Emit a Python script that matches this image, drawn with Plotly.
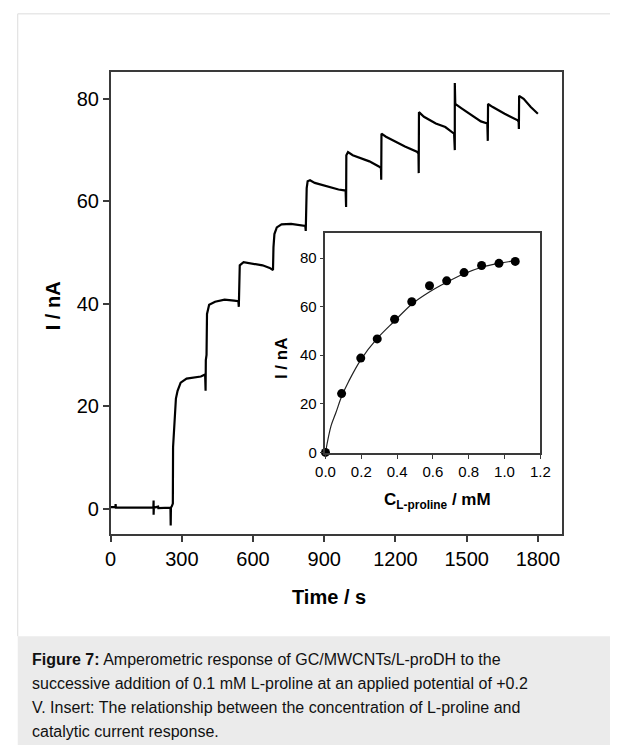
import plotly.graph_objects as go

# main amperometric trace (time in s, current in nA)
time_s = [
    0, 20, 21, 22, 120, 180, 181, 181, 182, 200, 201, 252, 253, 254,
    258, 262, 263, 266, 270, 275, 282, 295, 320, 350, 380, 398,
    400, 401, 404, 406, 415, 440, 480, 520, 538, 540, 541, 544,
    560, 600, 640, 670, 684, 686, 690, 700, 720, 760, 800, 820, 822, 823,
    826, 830, 840, 860, 890, 930, 960, 990, 992, 993, 1000, 1020, 1050,
    1090, 1130, 1139, 1140, 1141, 1160, 1200, 1240, 1290, 1297, 1298, 1299,
    1320, 1370, 1410, 1447, 1450, 1450, 1452, 1480, 1520, 1560, 1587, 1589,
    1590, 1610, 1660, 1715, 1719, 1720, 1721, 1740, 1770, 1800,
]
current_na = [
    0.3, 0.3, 0.9, 0.2, 0.2, 0.2, 1.6, -1.2, 0.2, 0.4, 0.1, 0.2, -3.3, 0.2,
    0.5, 1.0, 12.0, 15.0, 18.5, 21.5, 23.0, 24.6, 25.4, 25.6, 25.8, 26.2,
    23.0, 29.0, 30.0, 38.0, 39.8, 40.4, 40.8, 40.6, 40.5, 39.4, 43.0, 47.5,
    48.1, 47.8, 47.5, 47.0, 46.6, 51.0, 53.6, 54.9, 55.5, 55.6, 55.4, 55.2, 54.2, 57.8,
    62.6, 63.9, 64.1, 63.6, 63.2, 62.6, 62.3, 62.1, 58.9, 69.0, 69.6, 69.0, 68.5,
    67.8, 66.8, 66.5, 64.2, 73.2, 72.6, 71.6, 70.7, 69.7, 69.3, 65.5, 77.4,
    76.5, 75.2, 74.5, 73.2, 70.0, 83.1, 79.0, 78.1, 76.8, 75.6, 75.2, 71.8,
    79.0, 78.4, 77.1, 75.8, 75.5, 74.1, 80.6, 80.0, 78.4, 77.1,
]

# inset: measured points and fitted curve
conc_mm = [0.0, 0.09, 0.197, 0.289, 0.386, 0.482, 0.581, 0.677, 0.774, 0.872, 0.969, 1.06]
resp_na = [0.0, 24.2, 38.8, 46.7, 54.8, 62.0, 68.6, 70.6, 74.0, 76.9, 77.8, 78.6]
fit_x = [0.0, 0.031, 0.058, 0.09, 0.13, 0.197, 0.289, 0.386, 0.482, 0.58, 0.677, 0.774, 0.872, 0.969, 1.06]
fit_y = [0.0, 10.9, 16.3, 23.0, 29.3, 38.1, 46.9, 54.1, 61.0, 66.0, 70.0, 73.5, 76.2, 77.8, 78.9]

main_ticks = [0, 300, 600, 900, 1200, 1500, 1800]
main_yticks = [0, 20, 40, 60, 80]
inset_xticks = [0.0, 0.2, 0.4, 0.6, 0.8, 1.0, 1.2]
inset_yticks = [0, 20, 40, 60, 80]

caption_lines = [
    "<b>Figure 7:</b> Amperometric response of GC/MWCNTs/L-proDH to the",
    "successive addition of 0.1 mM L-proline at an applied potential of +0.2",
    "V. Insert: The relationship between the concentration of L-proline and",
    "catalytic current response.",
]

W, H = 620, 753
FONT = "Liberation Sans, Arial, sans-serif"
AXIS_COLOR = "#3a3a3a"


def px(x):
    return x / W


def py(y):
    return 1 - y / H


fig = go.Figure()

fig.add_trace(
    go.Scatter(
        x=time_s, y=current_na, mode="lines",
        line=dict(color="black", width=2.2),
        xaxis="x", yaxis="y", showlegend=False,
    )
)
fig.add_trace(
    go.Scatter(
        x=fit_x, y=fit_y, mode="lines",
        line=dict(color="#222222", width=1.2, shape="spline"),
        xaxis="x2", yaxis="y2", showlegend=False,
    )
)
fig.add_trace(
    go.Scatter(
        x=conc_mm, y=resp_na, mode="markers",
        marker=dict(color="black", size=9),
        xaxis="x2", yaxis="y2", showlegend=False, cliponaxis=False,
    )
)

axis_common = dict(
    showline=True, linecolor=AXIS_COLOR, linewidth=1.5, mirror=True,
    ticks="outside", tickcolor=AXIS_COLOR, showgrid=False, zeroline=False,
)

fig.update_layout(
    width=W,
    height=H,
    margin=dict(l=0, r=0, t=0, b=0),
    paper_bgcolor="white",
    plot_bgcolor="white",
    font=dict(family=FONT, color="black"),
    xaxis=dict(
        **axis_common, domain=[px(104), px(570)], range=[0, 1900],
        tickvals=main_ticks, ticklen=6, tickwidth=1.5,
        tickfont=dict(size=20), anchor="y",
    ),
    yaxis=dict(
        **axis_common, domain=[py(540), py(73)], range=[-5, 85.2],
        tickvals=main_yticks, ticklen=6, tickwidth=1.5,
        tickfont=dict(size=20), anchor="x",
    ),
    xaxis2=dict(
        **axis_common, domain=[px(326), px(548)], range=[0, 1.2],
        tickvals=inset_xticks, tickformat=".1f", ticklen=4, tickwidth=1.2,
        tickfont=dict(size=15), anchor="y2",
    ),
    yaxis2=dict(
        **axis_common, domain=[py(458), py(235)], range=[-0.3, 90.5],
        tickvals=inset_yticks, ticklen=4, tickwidth=1.2,
        tickfont=dict(size=15), anchor="x2",
    ),
)

annotations = [
    dict(text="<b>Time / s</b>", x=px(330), y=py(603), font=dict(size=20)),
    dict(text="<b>I / nA</b>", x=px(44), y=py(309), textangle=-90, font=dict(size=20)),
    dict(text="<b>I / nA</b>", x=px(280), y=py(362), textangle=-90, font=dict(size=17)),
    dict(text="<b>C<sub>L-proline</sub> / mM</b>", x=px(442), y=py(506), font=dict(size=17)),
]
for a in annotations:
    a.update(xref="paper", yref="paper", showarrow=False, xanchor="center", yanchor="middle")

for i, line in enumerate(caption_lines):
    annotations.append(
        dict(
            text=line, xref="paper", yref="paper", x=px(21), y=py(667 + 24 * i),
            xanchor="left", yanchor="middle", showarrow=False,
            font=dict(size=16, color="#111111"),
        )
    )
fig.update_layout(annotations=annotations)

fig.update_layout(
    shapes=[
        dict(type="rect", xref="paper", yref="paper", x0=px(8), x1=1, y0=0, y1=py(643),
             fillcolor="#ebebeb", line=dict(width=0), layer="below"),
        dict(type="line", xref="paper", yref="paper", x0=px(8), x1=1, y0=py(14), y1=py(14),
             line=dict(color="#dcdcdc", width=1)),
        dict(type="line", xref="paper", yref="paper", x0=px(8), x1=px(8), y0=py(14), y1=py(643),
             line=dict(color="#dcdcdc", width=1)),
    ]
)

# the page body has a default 8px margin; drop it so the figure fills the window exactly
fig.write_html(
    "out.html",
    post_script="document.body.style.margin='0';document.body.style.overflow='hidden';",
    config={"displayModeBar": False},
)
